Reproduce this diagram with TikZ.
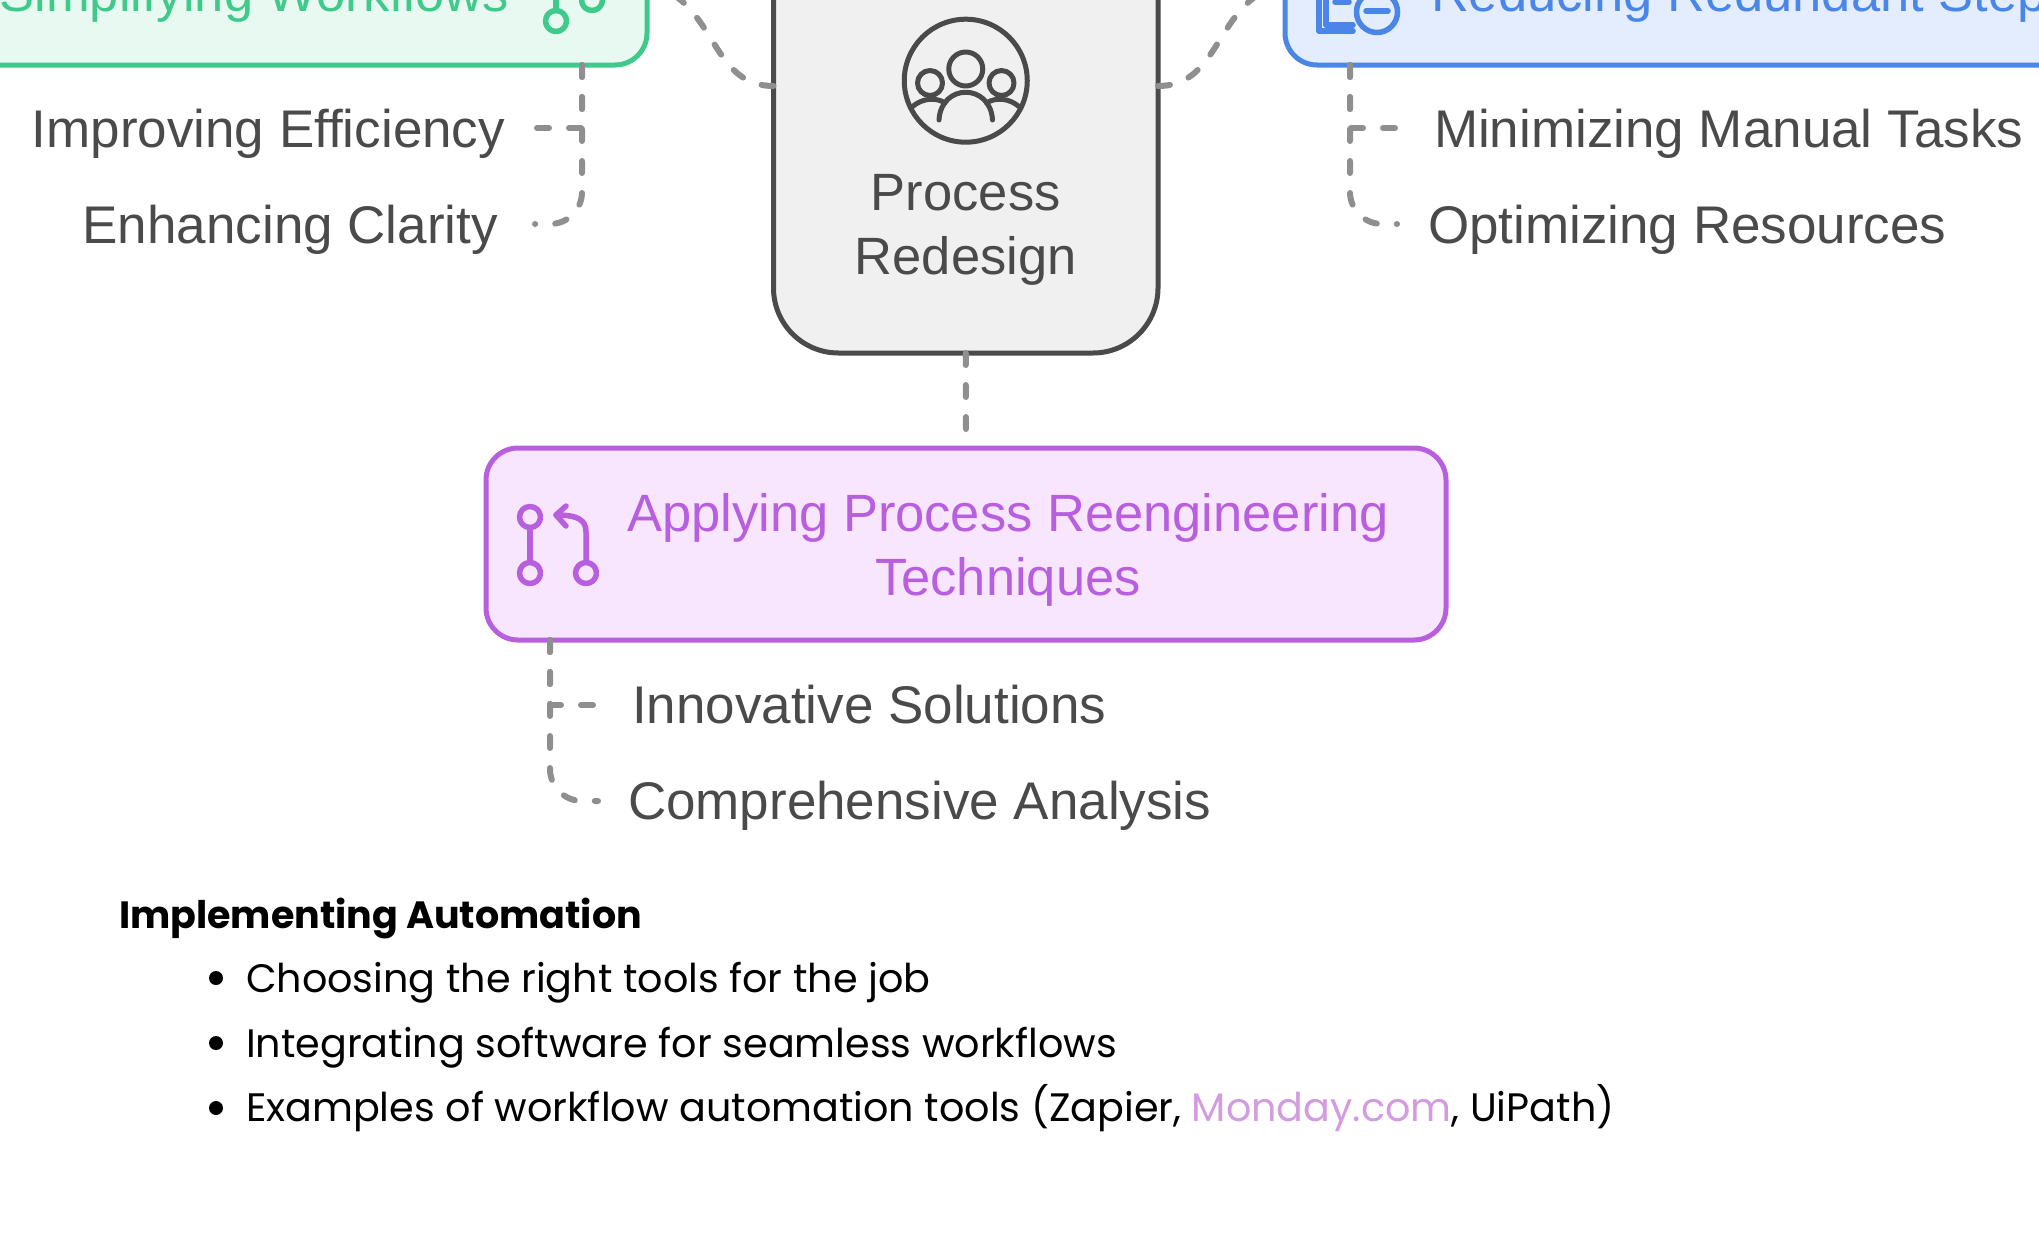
\documentclass[tikz,border=0pt]{standalone}
\usepackage{fontspec}
\setmainfont{Liberation Sans}
\newfontfamily\notefont{Poppins}
\usetikzlibrary{arrows,shapes}
\definecolor{inkgray}{HTML}{4A4A4A}
\definecolor{linkgray}{HTML}{8F8F8F}
\definecolor{greenline}{HTML}{3FC98A}
\definecolor{greenfill}{HTML}{E8F9F2}
\definecolor{blueline}{HTML}{4A86E8}
\definecolor{bluefill}{HTML}{E3EDFE}
\definecolor{purpleline}{HTML}{B85FE0}
\definecolor{purplefill}{HTML}{F7E6FD}
\definecolor{grayfill}{HTML}{F0F0F0}
\definecolor{mondaylink}{HTML}{D39BE0}
\tikzstyle{box}=[rectangle,line width=5pt,inner sep=0pt,outer sep=0pt]
\tikzstyle{leaf}=[inner sep=0pt,outer sep=0pt,text=inkgray,font=\fontsize{53}{64}\selectfont]
\tikzstyle{head}=[inner sep=0pt,outer sep=0pt,align=center,font=\fontsize{52.5}{64}\selectfont]
\tikzstyle{note}=[inner sep=0pt,outer sep=0pt,anchor=base west,font=\notefont\fontsize{39.7}{64}\selectfont]
\tikzstyle{bulletdot}=[circle,fill=black,minimum size=14pt,inner sep=0pt]
\tikzstyle{link}=[draw=linkgray,line width=6pt,line cap=round,dash pattern=on 12pt off 20pt]
\tikzstyle{glyph}=[line width=5pt,line cap=round,line join=round]
\tikzstyle{tintglyph}=[line width=5.5pt,line cap=round,line join=round]

\begin{document}
\begin{tikzpicture}[x=1pt,y=-1pt]
        \useasboundingbox (0,0) rectangle (2039,1245);
        \clip (0,0) rectangle (2039,1245);
        % boxes
        \node[box,draw=greenline,fill=greenfill,rounded corners=32pt,minimum width=1000pt,minimum height=265pt] (simplify) at (147,-67.5) {};
        \node[box,draw=blueline,fill=bluefill,rounded corners=32pt,minimum width=1115pt,minimum height=265pt] (reduce) at (1842.5,-67.5) {};
        \node[box,draw=inkgray,fill=grayfill,rounded corners=65pt,minimum width=384.5pt,minimum height=453pt] (redesign) at (965.75,126.5) {};
        \node[box,draw=purpleline,fill=purplefill,rounded corners=32pt,minimum width=960pt,minimum height=192pt] (reengineer) at (966,544) {};
        % texts
        \node[head,text=greenline,anchor=base east] (simplifytext) at (509,11) {Simplifying Workflows};
        \node[head,text=blueline,anchor=base west] (reducetext) at (1431,11) {Reducing Redundant Steps};
        \node[head,text=inkgray] (redesigntext) at (965.75,230) {Process\\Redesign};
        \node[head,text=purpleline] (reengineertext) at (1008,549.5) {Applying Process Reengineering\\Techniques};
        \node[leaf,anchor=base east] (efficiency) at (505,147) {Improving Efficiency};
        \node[leaf,anchor=base east] (clarity) at (498,243) {Enhancing Clarity};
        \node[leaf,anchor=base west] (manual) at (1434,147) {Minimizing Manual Tasks};
        \node[leaf,anchor=base west] (resources) at (1428,243) {Optimizing Resources};
        \node[leaf,anchor=base west] (innovative) at (632,723) {Innovative Solutions};
        \node[leaf,anchor=base west] (analysis) at (628,819) {Comprehensive Analysis};
        % connector ends
        \coordinate (efficiencyend) at (536,128);
        \coordinate (clarityend) at (535,224);
        \coordinate (manualend) at (1398,128);
        \coordinate (resourcesend) at (1397,224);
        \coordinate (innovativeend) at (597,705);
        \coordinate (analysisend) at (598,801);
        \coordinate (leftend) at (669.5,-8);
        \coordinate (rightend) at (1262,-8);
        \coordinate (lefttap) at (773.5,86);
        \coordinate (righttap) at (1158,86);
        \draw[link] (redesign.south) to (reengineer.north);
        \draw[link] (lefttap) .. controls (716.5,86) and (716.5,20) .. (leftend);
        \draw[link] (righttap) .. controls (1215,86) and (1215,20) .. (rightend);
        \draw[link] (simplify.south -| 582,0) |- (efficiencyend);
        \draw[link,rounded corners=32pt] (simplify.south -| 582,0) |- (clarityend);
        \draw[link] (reduce.south -| 1350,0) |- (manualend);
        \draw[link,rounded corners=32pt] (reduce.south -| 1350,0) |- (resourcesend);
        \draw[link] (reengineer.south -| 550,0) |- (innovativeend);
        \draw[link,rounded corners=32pt] (reengineer.south -| 550,0) |- (analysisend);
        % icons
        \draw[glyph,draw=inkgray] (965.75,80.7) circle (61.5);
        \draw[glyph,draw=inkgray] (965.75,69) circle (17);
        \draw[glyph,draw=inkgray] (930,83) circle (12.5);
        \draw[glyph,draw=inkgray] (1001.5,83) circle (12.5);
        \draw[glyph,draw=inkgray] (939,120) .. controls (941,83) and (990.5,83) .. (992.5,120);
        \draw[glyph,draw=inkgray] (912,107) .. controls (922,98) and (936,97) .. (945,103);
        \draw[glyph,draw=inkgray] (1019.5,107) .. controls (1009.5,98) and (995.5,97) .. (986.5,103);
        \draw[tintglyph,draw=purpleline] (530,517) circle (10.5);
        \draw[tintglyph,draw=purpleline] (530,573) circle (10.5);
        \draw[tintglyph,draw=purpleline] (586,573) circle (10.5);
        \draw[tintglyph,draw=purpleline] (530,528) to (530,562);
        \draw[tintglyph,draw=purpleline] (586,562) -- (586,532) .. controls (586,520) and (578,515) .. (556,515);
        \draw[tintglyph,draw=purpleline] (566,506) -- (556,515) -- (566,526);
        \draw[tintglyph,draw=greenline] (556,21) circle (10.5);
        \draw[tintglyph,draw=greenline] (592,0) circle (10.5);
        \draw[tintglyph,draw=greenline] (556,10) to (556,-5);
        \draw[tintglyph,draw=blueline] (1319,-5) -- (1319,31) -- (1353,31);
        \draw[tintglyph,draw=blueline] (1326,-5) -- (1326,25) -- (1353,25);
        \draw[tintglyph,draw=blueline] (1335,2) to (1349,2);
        \draw[tintglyph,draw=blueline] (1377,12) circle (20.5);
        \draw[tintglyph,draw=blueline] (1366,11) to (1388,11);
        % notes
        \node[note,font=\notefont\bfseries\fontsize{38}{64}\selectfont] (notehead) at (119,928) {Implementing Automation};
        \node[bulletdot] (dota) at (216,978) {};
        \node[bulletdot] (dotb) at (216,1043) {};
        \node[bulletdot] (dotc) at (216,1108) {};
        \node[note] (notea) at (246,992) {Choosing the right tools for the job};
        \node[note] (noteb) at (246,1057) {Integrating software for seamless workflows};
        \node[note] (notec) at (246,1121) {Examples of workflow automation tools (Zapier, \textcolor{mondaylink}{Monday.com}, UiPath)};
\end{tikzpicture}
\end{document}
